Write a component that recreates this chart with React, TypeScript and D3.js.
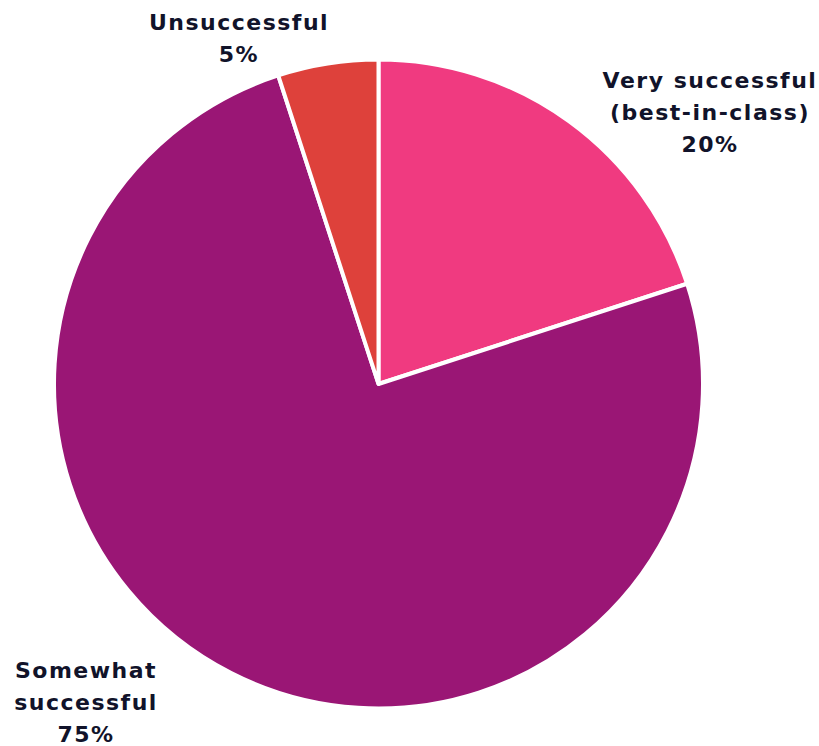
import React from "react";
import * as d3 from "d3";

const categories = ["Very successful (best-in-class)", "Somewhat successful", "Unsuccessful"];
const values = [20, 75, 5];
const colors = ["#f03a80", "#9a1675", "#de413b"];
const labelLines = [
  ["Very successful", "(best-in-class)", "20%"],
  ["Somewhat", "successful", "75%"],
  ["Unsuccessful", "5%"],
];

const W = 819;
const H = 746;
const cx = 378.5;
const cy = 384;
const R = 324.5;

const labelPos = [
  { x: 710, y: 88 },
  { x: 86, y: 678 },
  { x: 239, y: 30 },
];

export default function App() {
  const data = categories.map((c, i) => ({ c, v: values[i], i }));
  const pie = d3.pie<any>().value((d) => d.v).sort(null);
  const arcs = pie(data);
  const arc = d3.arc<any>().innerRadius(0).outerRadius(R);
  return (
    <svg width={W} height={H} style={{ position: "absolute", left: 0, top: 0 }}>
      <rect width={W} height={H} fill="#ffffff" />
      <g transform={`translate(${cx},${cy})`}>
        {arcs.map((a, i) => (
          <path key={i} d={arc(a) as string} fill={colors[i]} stroke="#ffffff" strokeWidth={4} strokeLinejoin="round" />
        ))}
      </g>
      {labelLines.map((lines, i) => (
        <text
          key={i}
          x={labelPos[i].x}
          y={labelPos[i].y}
          textAnchor="middle"
          fontFamily="'DejaVu Sans', sans-serif"
          fontWeight="bold"
          fontSize={22}
          letterSpacing={1.5}
          fill="#11132a"
        >
          {lines.map((l, j) => (
            <tspan key={j} x={labelPos[i].x} dy={j === 0 ? 0 : 32}>
              {l}
            </tspan>
          ))}
        </text>
      ))}
    </svg>
  );
}
